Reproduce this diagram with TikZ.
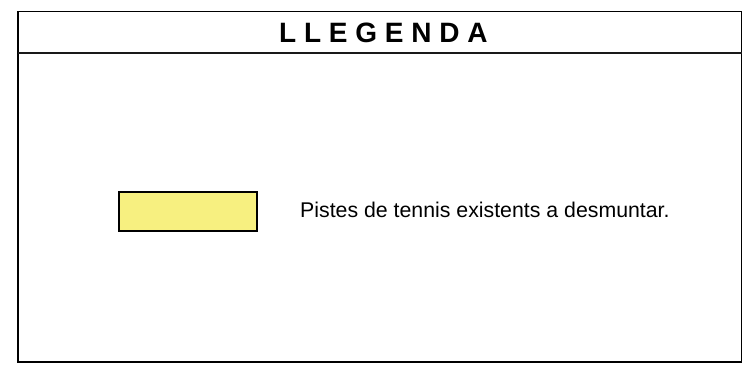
\documentclass[tikz,border=0pt]{standalone}
\usepackage{fontspec}
\setmainfont{Liberation Sans}
\begin{document}
\begin{tikzpicture}[x=1pt,y=-1pt,
  frame/.style={draw=black,line width=1.4pt},
  divider/.style={draw=black!90,line width=2pt},
  swatch/.style={draw=black,line width=2pt,fill=swatchyellow},
  title/.style={inner sep=0pt,anchor=base west,font=\bfseries\fontsize{28}{30}\selectfont},
  label/.style={inner sep=0pt,anchor=base west,font=\fontsize{21.3}{24}\selectfont}]
\definecolor{swatchyellow}{HTML}{F7F080}
\useasboundingbox (0,0) rectangle (748,371);
\draw[frame] (18,11.7) rectangle (741.5,362);
\draw[divider] (18,53.5) -- (741.5,53.5);
\node[title] (t) at (279,43) {L L E G E N D A};
\draw[swatch] (119,192.3) rectangle (256.7,230.7);
\node[label] (l) at (300,218) {Pistes de tennis existents a desmuntar.};
\end{tikzpicture}
\end{document}
